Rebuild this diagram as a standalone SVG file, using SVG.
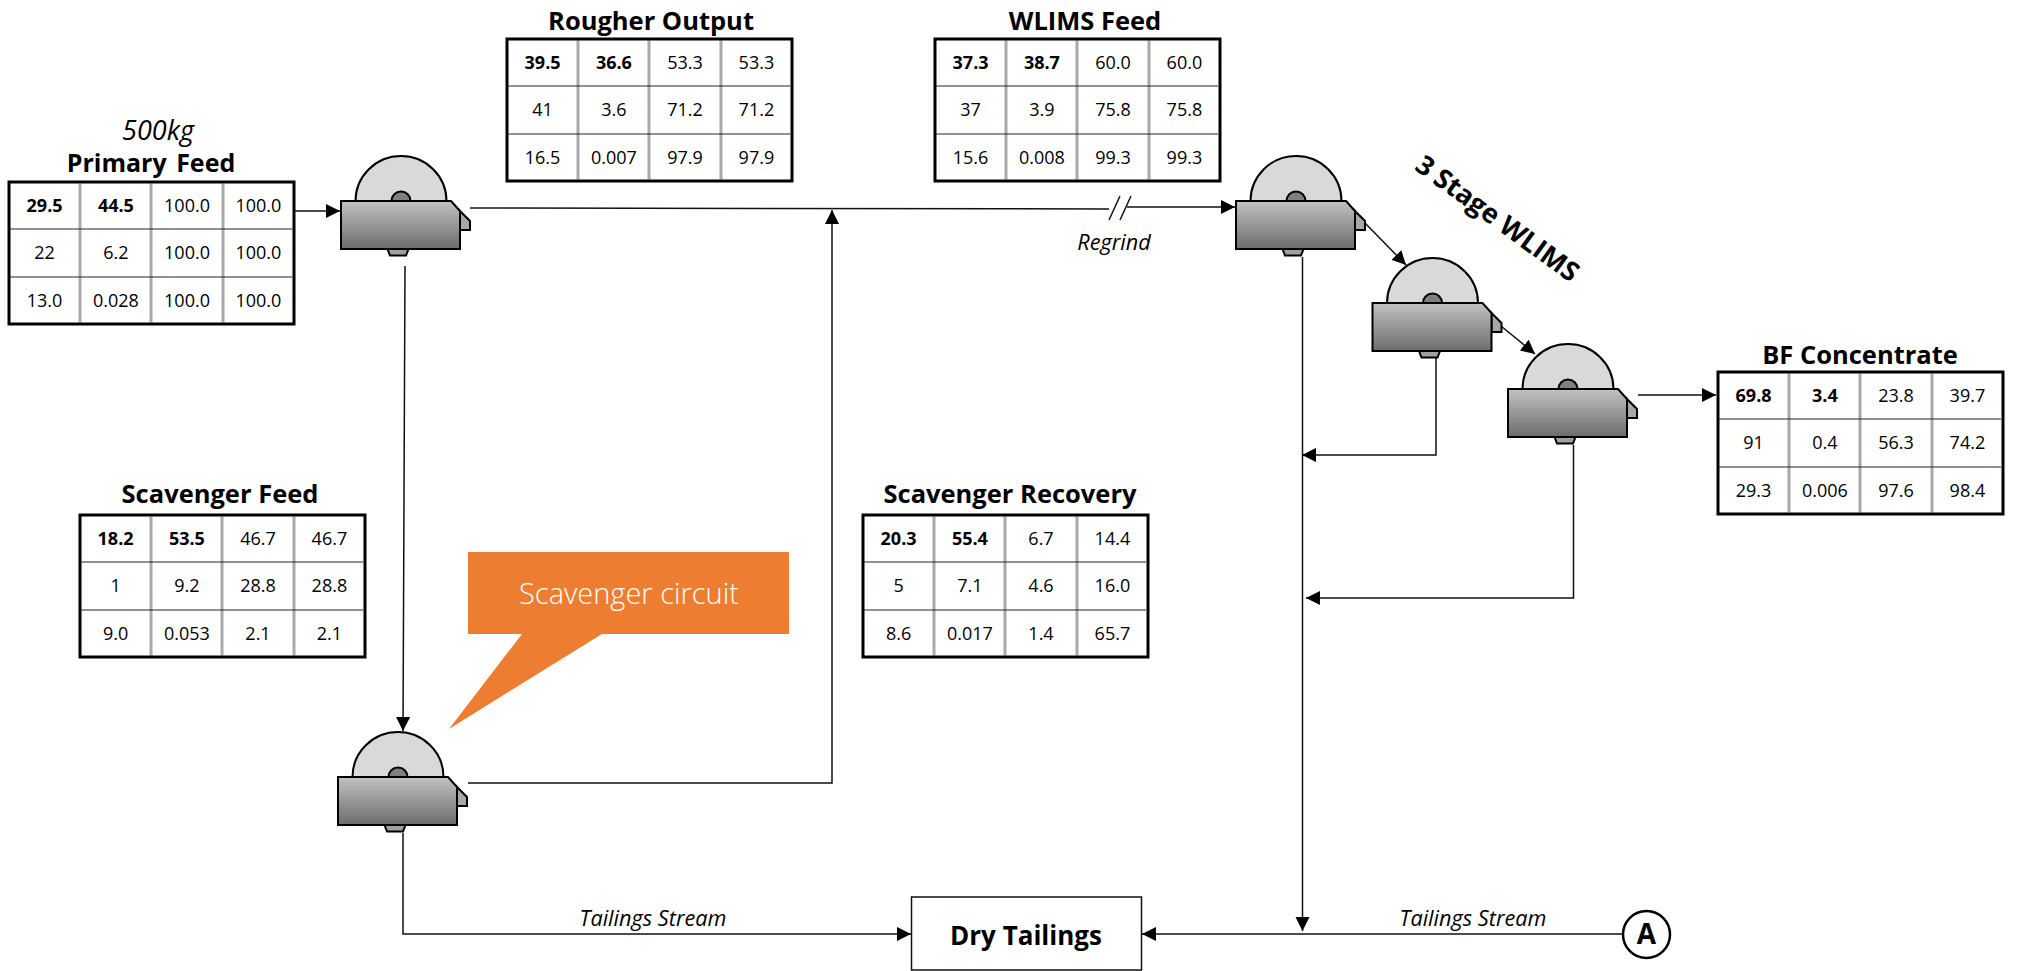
<svg xmlns="http://www.w3.org/2000/svg" xmlns:xlink="http://www.w3.org/1999/xlink" width="2017" height="971" viewBox="0 0 2017 971">
<style>
text{font-family:"Open Sans","Noto Sans","DejaVu Sans",sans-serif;fill:#000}
.v{font-size:18px;text-anchor:middle}
.b{font-weight:700}
.t{font-size:25.500px;font-weight:700;text-anchor:middle}
.i{font-size:21.700px;font-style:italic;text-anchor:middle}
.frame{fill:#fff;stroke:#000;stroke-width:3}
.sep{stroke:#555;stroke-width:3;stroke-dasharray:1 1;fill:none}
.seph{stroke:#222;stroke-width:2;stroke-dasharray:1 1;fill:none}
.c{fill:none;stroke:#111;stroke-width:1.5}
.ca{fill:none;stroke:#111;stroke-width:1.5;marker-end:url(#arrow)}
.m{stroke:#000;stroke-width:2}
</style>
<defs>
<linearGradient id="body" x1="0" y1="0" x2="0" y2="1"><stop offset="0" stop-color="#c2c2c2"/><stop offset="1" stop-color="#6c6c6c"/></linearGradient>
<marker id="arrow" markerUnits="userSpaceOnUse" markerWidth="16" markerHeight="16" refX="14" refY="7" orient="auto"><path d="M0 0L14 7L0 14Z" fill="#000"/></marker>
<g id="sepr">
<path class="m" d="M119 10L129 20V29H119Z" fill="#a8a8a8"/>
<path class="m" d="M14.500 0A45.500 45 0 0 1 105.500 0Z" fill="#d9d9d9"/>
<path class="m" d="M50.500 0A9.500 9.500 0 0 1 69.500 0Z" fill="#7f7f7f"/>
<path class="m" d="M46.500 48L49 54.500H65L67.500 48Z" fill="#a0a0a0"/>
<path class="m" d="M0 0H110L119 10V48H0Z" fill="url(#body)"/>
</g>
<g id="grid">
<rect class="frame" width="285" height="142"/>
<path class="sep" d="M71 1.500V140.500M142 1.500V140.500M214 1.500V140.500"/>
<path class="seph" d="M1.500 47H283.500M1.500 95H283.500"/>
</g>
</defs>
<rect width="2017" height="971" fill="#fff"/>
<g id="connectors">
<path class="ca" d="M294 211H340"/>
<path class="c" d="M470 208L1109 209"/>
<path class="ca" d="M1127 207H1235"/>
<path class="c" d="M1109 220L1120 196M1120 220L1131 196"/>
<path class="ca" d="M405 266L403 731"/>
<path class="ca" d="M468 783H832V210"/>
<path class="ca" d="M403 833V934H911"/>
<path class="ca" d="M1623 934H1142"/>
<path class="ca" d="M1302.500 257V931"/>
<path class="ca" d="M1365 223L1406 265"/>
<path class="ca" d="M1501 326L1535 354"/>
<path class="ca" d="M1436 358V455H1302"/>
<path class="ca" d="M1573.500 445V598H1306"/>
<path class="ca" d="M1638 395H1716"/>
</g>
<g id="node-primary-feed">
<text x="158" y="140" text-anchor="middle" font-size="27" font-style="italic">500kg</text>
<text class="t" x="151" y="172" style="font-size:25px;word-spacing:3px">Primary Feed</text>
<use xlink:href="#grid" href="#grid" x="9" y="182"/>
<text class="v b" x="44.600" y="212">29.5</text><text class="v b" x="115.900" y="212">44.5</text><text class="v" x="187" y="212">100.0</text><text class="v" x="258.400" y="212">100.0</text>
<text class="v" x="44.600" y="259">22</text><text class="v" x="115.900" y="259">6.2</text><text class="v" x="187" y="259">100.0</text><text class="v" x="258.400" y="259">100.0</text>
<text class="v" x="44.600" y="307">13.0</text><text class="v" x="115.900" y="307">0.028</text><text class="v" x="187" y="307">100.0</text><text class="v" x="258.400" y="307">100.0</text>
</g>
<g id="node-rougher-output">
<text class="t" x="651" y="30">Rougher Output</text>
<use xlink:href="#grid" href="#grid" x="507" y="39"/>
<text class="v b" x="542.600" y="69">39.5</text><text class="v b" x="613.900" y="69">36.6</text><text class="v" x="685" y="69">53.3</text><text class="v" x="756.400" y="69">53.3</text>
<text class="v" x="542.600" y="116">41</text><text class="v" x="613.900" y="116">3.6</text><text class="v" x="685" y="116">71.2</text><text class="v" x="756.400" y="116">71.2</text>
<text class="v" x="542.600" y="164">16.5</text><text class="v" x="613.900" y="164">0.007</text><text class="v" x="685" y="164">97.9</text><text class="v" x="756.400" y="164">97.9</text>
</g>
<g id="node-wlims-feed">
<text class="t" x="1085" y="30">WLIMS Feed</text>
<use xlink:href="#grid" href="#grid" x="935" y="39"/>
<text class="v b" x="970.600" y="69">37.3</text><text class="v b" x="1041.900" y="69">38.7</text><text class="v" x="1113" y="69">60.0</text><text class="v" x="1184.400" y="69">60.0</text>
<text class="v" x="970.600" y="116">37</text><text class="v" x="1041.900" y="116">3.9</text><text class="v" x="1113" y="116">75.8</text><text class="v" x="1184.400" y="116">75.8</text>
<text class="v" x="970.600" y="164">15.6</text><text class="v" x="1041.900" y="164">0.008</text><text class="v" x="1113" y="164">99.3</text><text class="v" x="1184.400" y="164">99.3</text>
</g>
<g id="node-scavenger-feed">
<text class="t" x="220" y="503">Scavenger Feed</text>
<use xlink:href="#grid" href="#grid" x="80" y="515"/>
<text class="v b" x="115.600" y="545">18.2</text><text class="v b" x="186.900" y="545">53.5</text><text class="v" x="258" y="545">46.7</text><text class="v" x="329.400" y="545">46.7</text>
<text class="v" x="115.600" y="592">1</text><text class="v" x="186.900" y="592">9.2</text><text class="v" x="258" y="592">28.8</text><text class="v" x="329.400" y="592">28.8</text>
<text class="v" x="115.600" y="640">9.0</text><text class="v" x="186.900" y="640">0.053</text><text class="v" x="258" y="640">2.1</text><text class="v" x="329.400" y="640">2.1</text>
</g>
<g id="node-scavenger-recovery">
<text class="t" x="1010" y="503">Scavenger Recovery</text>
<use xlink:href="#grid" href="#grid" x="863" y="515"/>
<text class="v b" x="898.600" y="545">20.3</text><text class="v b" x="969.900" y="545">55.4</text><text class="v" x="1041" y="545">6.7</text><text class="v" x="1112.400" y="545">14.4</text>
<text class="v" x="898.600" y="592">5</text><text class="v" x="969.900" y="592">7.1</text><text class="v" x="1041" y="592">4.6</text><text class="v" x="1112.400" y="592">16.0</text>
<text class="v" x="898.600" y="640">8.6</text><text class="v" x="969.900" y="640">0.017</text><text class="v" x="1041" y="640">1.4</text><text class="v" x="1112.400" y="640">65.7</text>
</g>
<g id="node-bf-concentrate">
<text class="t" x="1860" y="364">BF Concentrate</text>
<use xlink:href="#grid" href="#grid" x="1718" y="372"/>
<text class="v b" x="1753.600" y="402">69.8</text><text class="v b" x="1824.900" y="402">3.4</text><text class="v" x="1896" y="402">23.8</text><text class="v" x="1967.400" y="402">39.7</text>
<text class="v" x="1753.600" y="449">91</text><text class="v" x="1824.900" y="449">0.4</text><text class="v" x="1896" y="449">56.3</text><text class="v" x="1967.400" y="449">74.2</text>
<text class="v" x="1753.600" y="497">29.3</text><text class="v" x="1824.900" y="497">0.006</text><text class="v" x="1896" y="497">97.6</text><text class="v" x="1967.400" y="497">98.4</text>
</g>
<g id="node-rougher-separator"><use xlink:href="#sepr" href="#sepr" x="341" y="201"/></g>
<g id="node-wlims-1"><use xlink:href="#sepr" href="#sepr" x="1236" y="201"/></g>
<g id="node-wlims-2"><use xlink:href="#sepr" href="#sepr" x="1372.500" y="303"/></g>
<g id="node-wlims-3"><use xlink:href="#sepr" href="#sepr" x="1508" y="389"/></g>
<g id="node-scavenger-separator"><use xlink:href="#sepr" href="#sepr" x="338" y="777"/></g>
<g id="node-callout">
<path d="M468 552H789V634H602L449 729L522 634H468Z" fill="#ed7d31"/>
<text x="629" y="604" text-anchor="middle" font-size="29" font-weight="300" style="fill:#fff">Scavenger circuit</text>
</g>
<g id="node-dry-tailings">
<rect x="911.500" y="897" width="230" height="73" fill="#fff" stroke="#111" stroke-width="1.500"/>
<text class="t" x="1026" y="945" style="font-size:26px">Dry Tailings</text>
</g>
<g id="node-a">
<circle cx="1646.500" cy="934.500" r="23.500" fill="#fff" stroke="#000" stroke-width="2.500"/>
<text class="t" x="1646.500" y="944" style="font-size:28px">A</text>
</g>
<g id="labels">
<text class="t" transform="translate(1492 226) rotate(36)" style="font-size:27px">3 Stage WLIMS</text>
<text class="i" x="1114" y="250">Regrind</text>
<text class="i" x="653" y="926">Tailings Stream</text>
<text class="i" x="1473" y="926">Tailings Stream</text>
</g>
</svg>
